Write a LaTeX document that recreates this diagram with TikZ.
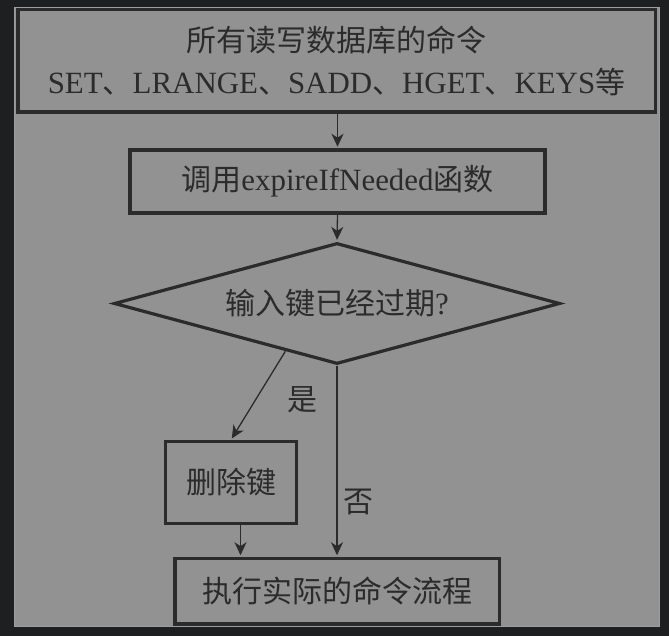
\documentclass[tikz,border=0pt]{standalone}
\usepackage{fontspec}
\setmainfont{Liberation Serif}[Scale=1.03]
\newfontfamily\cjk{Noto Sans CJK SC}
\usetikzlibrary{shapes.geometric}
\usetikzlibrary{arrows.meta}
\usetikzlibrary{calc}
\definecolor{bgdark}{HTML}{1E1F21}
\definecolor{panel}{HTML}{929292}
\definecolor{rim}{HTML}{9E9E9E}
\definecolor{ink}{HTML}{2B2B2B}
\newcommand\zh[1]{{\cjk #1}}

\begin{document}
\begin{tikzpicture}[x=1pt, y=-1pt,
            box node/.style={rectangle, draw=ink, line width=3.5pt, text=ink, inner sep=0pt, align=center, font=\fontsize{30pt}{42pt}\selectfont},
            dia node/.style={diamond, aspect=3.7, draw=ink, line width=3.2pt, text=ink, inner sep=0pt, minimum width=446pt, minimum height=121pt, font=\fontsize{30pt}{36pt}\selectfont},
            flow/.style={draw=ink, line width=1.3pt, shorten >=1.5pt, -{Stealth[length=13pt, width=12pt, inset=4pt]}},
            tag/.style={text=ink, inner sep=2pt, font=\fontsize{30pt}{36pt}\selectfont},
            ]
            \useasboundingbox (0,0) rectangle (669,636);
            \fill[bgdark] (0,0) rectangle (669,636);
            \filldraw[fill=panel, draw=rim, line width=1pt] (14.5,7.5) rectangle (659.5,626.5);

            \node[box node, minimum width=637.5pt, minimum height=102.5pt] (cmds) at (336.5,61) {\zh{所有读写数据库的命令}\\SET\zh{、}LRANGE\zh{、}SADD\zh{、}HGET\zh{、}KEYS\zh{等}};
            \node[box node, minimum width=415pt, minimum height=63pt] (call) at (337.5,181.5) {\zh{调用}expireIfNeeded\zh{函数}};
            \node[dia node] (check) at (337,303.5) {\zh{输入键已经过期}?};
            \node[box node, minimum width=131pt, minimum height=82pt] (del) at (231,482.5) {\zh{删除键}};
            \node[box node, minimum width=324.5pt, minimum height=65.5pt] (run) at (337.25,591.25) {\zh{执行实际的命令流程}};

            \draw[flow] (cmds.south -| call.north) -- (call.north);
            \draw[flow] (call.south) -- (check.north);
            \draw[flow] ($(check.west)!0.77!(check.south)$) -- node[tag, pos=0.55, right=29pt] {\zh{是}} (del.north);
            \draw[flow] (check.south) -- node[tag, pos=0.714, right=4pt] {\zh{否}} (check.south |- run.north);
            \draw[flow] ([xshift=9.5pt]del.south) -- ([xshift=9.5pt]del.south |- run.north);
        \end{tikzpicture}
\end{document}
